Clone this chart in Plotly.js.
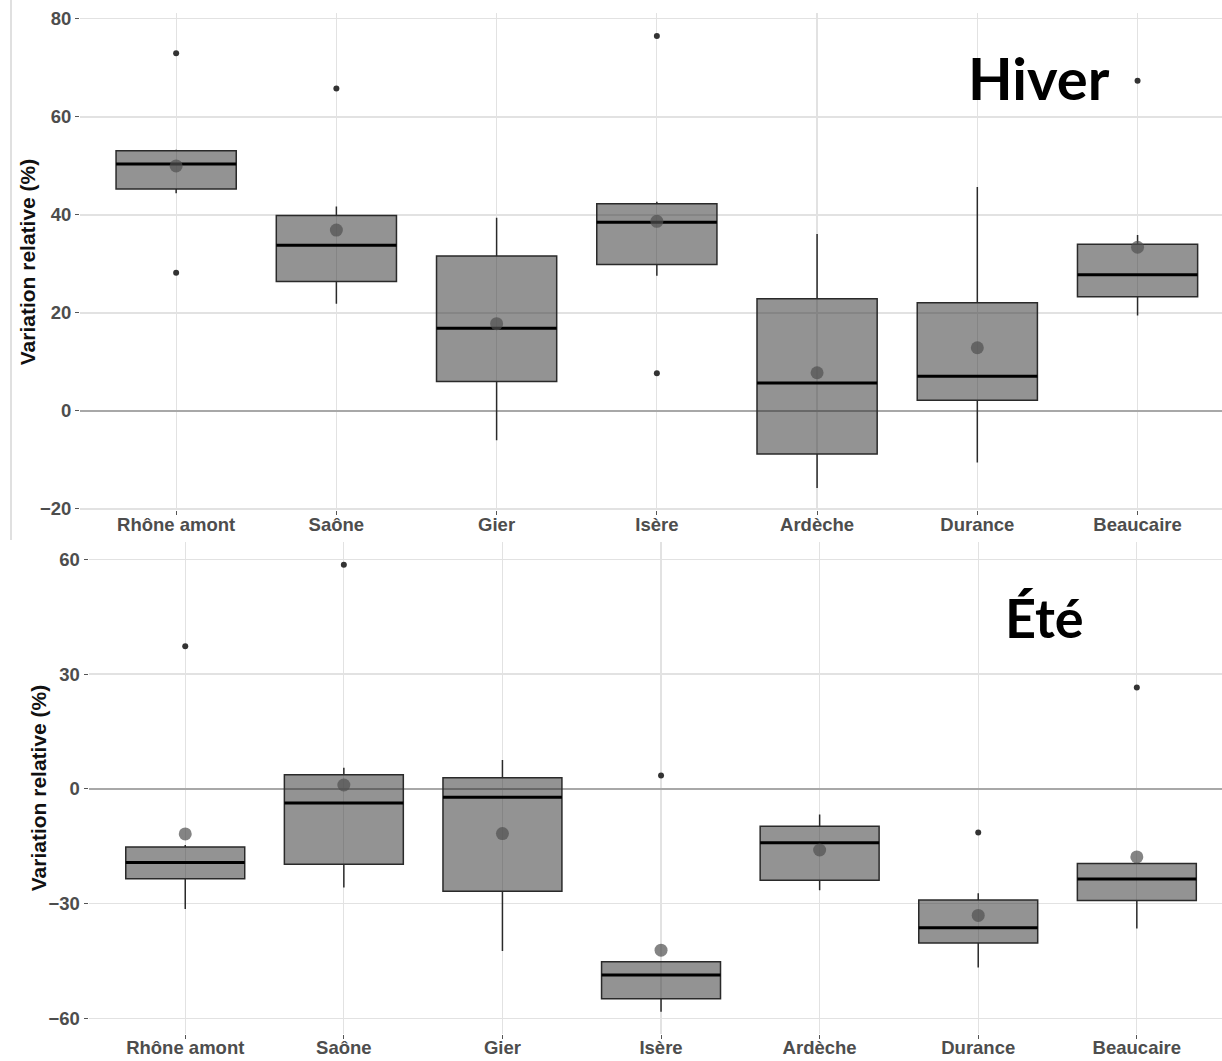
<!DOCTYPE html>
<html>
<head>
<meta charset="utf-8">
<script src="https://cdn.plot.ly/plotly-3.0.1.min.js"></script>
<style>html,body{margin:0;padding:0;background:#fff;}#chart{width:1222px;height:1061px;}</style>
</head>
<body>
<div id="chart"></div>
<script>
const categories = ['Rhône amont','Saône','Gier','Isère','Ardèche','Durance','Beaucaire'];

// Hiver (winter)
const hiverQ1     = [45.3, 26.4, 6.0, 29.9, -8.8, 2.2, 23.3];
const hiverMedian = [50.4, 33.8, 16.9, 38.5, 5.7, 7.1, 27.8];
const hiverQ3     = [53.1, 39.9, 31.6, 42.3, 22.9, 22.1, 34.0];
const hiverLow    = [44.4, 21.9, -6.0, 27.6, -15.7, -10.5, 19.5];
const hiverHigh   = [53.3, 41.7, 39.4, 42.7, 36.1, 45.7, 35.9];
const hiverMean   = [50.0, 36.9, 17.8, 38.7, 7.8, 12.9, 33.4];
const hiverOutlierCat = [0, 0, 1, 3, 3, 6];
const hiverOutlierVal = [73.0, 28.2, 65.8, 76.5, 7.7, 67.4];

// Été (summer)
const eteQ1     = [-23.5, -19.7, -26.8, -54.9, -23.9, -40.3, -29.2];
const eteMedian = [-19.3, -3.7, -2.2, -48.7, -14.1, -36.3, -23.6];
const eteQ3     = [-15.2, 3.7, 2.9, -45.2, -9.8, -29.1, -19.5];
const eteLow    = [-31.4, -25.8, -42.4, -58.3, -26.5, -46.7, -36.5];
const eteHigh   = [-14.7, 5.5, 7.5, -45.2, -6.7, -27.3, -19.5];
const eteMean   = [-11.8, 1.0, -11.7, -42.2, -16.0, -33.1, -17.8];
const eteOutlierCat = [0, 1, 3, 5, 6];
const eteOutlierVal = [37.3, 58.6, 3.5, -11.4, 26.5];

const hiverTicks = [-20, 0, 20, 40, 60, 80];
const eteTicks = [-60, -30, 0, 30, 60];

const BOXW = 0.75;
const idx = categories.map((c, i) => i);

function panelTraces(q1, med, q3, lo, hi, mean, outCat, outVal, xa, ya) {
  const mx = [], my = [];
  med.forEach((m, i) => { mx.push(i - BOXW / 2, i + BOXW / 2, null); my.push(m, m, null); });
  return [
    {
      type: 'box', x: idx, q1: q1, median: med, q3: q3, lowerfence: lo, upperfence: hi,
      width: BOXW, whiskerwidth: 0, boxpoints: false,
      fillcolor: 'rgba(40,40,40,0.5)', line: {color: '#2a2a2a', width: 1.5},
      xaxis: xa, yaxis: ya, hoverinfo: 'skip', showlegend: false
    },
    {
      type: 'scatter', mode: 'lines', x: mx, y: my,
      line: {color: '#000', width: 3}, xaxis: xa, yaxis: ya, hoverinfo: 'skip', showlegend: false
    },
    {
      type: 'scatter', mode: 'markers', x: outCat, y: outVal,
      marker: {color: '#333', size: 6}, xaxis: xa, yaxis: ya, hoverinfo: 'skip', showlegend: false
    },
    {
      type: 'scatter', mode: 'markers', x: idx, y: mean,
      marker: {color: 'rgba(80,80,80,0.7)', size: 13}, xaxis: xa, yaxis: ya, hoverinfo: 'skip', showlegend: false
    }
  ];
}

const data = [].concat(
  panelTraces(hiverQ1, hiverMedian, hiverQ3, hiverLow, hiverHigh, hiverMean, hiverOutlierCat, hiverOutlierVal, 'x', 'y'),
  panelTraces(eteQ1, eteMedian, eteQ3, eteLow, eteHigh, eteMean, eteOutlierCat, eteOutlierVal, 'x2', 'y2')
);

const tickFont = {family: 'Liberation Sans, Arial, sans-serif', size: 18.5, color: '#4d4d4d', weight: 'bold'};
const W = 1222, H = 1061;

function xaxisDef(domain, range, anchor) {
  return {
    domain: domain, range: range, anchor: anchor,
    tickvals: idx, ticktext: categories, tickfont: tickFont,
    showgrid: true, gridcolor: '#e2e2e2', gridwidth: 1.2, zeroline: false,
    ticks: 'outside', ticklen: 4, tickcolor: '#555', tickwidth: 1,
    ticklabelstandoff: -7,
    showline: false, fixedrange: true
  };
}
function yaxisDef(domain, range, anchor, ticks) {
  return {
    domain: domain, range: range, anchor: anchor,
    tickvals: ticks, tickfont: tickFont,
    showgrid: true, gridcolor: '#e2e2e2', gridwidth: 1.2,
    zeroline: true, zerolinecolor: '#a8a8a8', zerolinewidth: 1.5,
    ticks: 'outside', ticklen: 4, tickcolor: '#555', tickwidth: 1,
    showline: false, fixedrange: true
  };
}

const layout = {
  width: W, height: H,
  margin: {l: 0, r: 0, t: 0, b: 0},
  paper_bgcolor: '#fff', plot_bgcolor: '#fff',
  showlegend: false,
  xaxis: xaxisDef([80 / W, 1], [-0.6, 6.527], 'y'),
  yaxis: yaxisDef([1 - 510.3 / H, 1 - 13.3 / H], [-20.27, 81.14], 'x', hiverTicks),
  xaxis2: xaxisDef([88.5 / W, 1], [-0.61, 6.537], 'y2'),
  yaxis2: yaxisDef([1 - 1033.9 / H, 1 - 542.4 / H], [-64.08, 64.42], 'x2', eteTicks),
  shapes: [
    {type: 'line', xref: 'paper', yref: 'paper', x0: 11 / W, x1: 11 / W, y0: 1 - 540 / H, y1: 1,
     line: {color: '#d6d6d6', width: 1.5}}
  ],
  annotations: [
    {text: 'Variation relative (%)', xref: 'paper', yref: 'paper', x: 28.3 / W, y: 1 - 262 / H,
     xanchor: 'center', yanchor: 'middle', textangle: -90, showarrow: false,
     font: {family: 'Liberation Sans, Arial, sans-serif', size: 21, color: '#111', weight: 'bold'}},
    {text: 'Variation relative (%)', xref: 'paper', yref: 'paper', x: 38.3 / W, y: 1 - 788 / H,
     xanchor: 'center', yanchor: 'middle', textangle: -90, showarrow: false,
     font: {family: 'Liberation Sans, Arial, sans-serif', size: 21, color: '#111', weight: 'bold'}},
    {text: 'Hiver', xref: 'paper', yref: 'paper', x: 1038.7 / W, y: 1 - 77 / H,
     xanchor: 'center', yanchor: 'middle', showarrow: false,
     font: {family: 'Lato, sans-serif', size: 58, color: '#000', weight: 'bold'}},
    {text: 'Été', xref: 'paper', yref: 'paper', x: 1044 / W, y: 1 - 617 / H,
     xanchor: 'center', yanchor: 'middle', showarrow: false,
     font: {family: 'Lato, sans-serif', size: 54, color: '#000', weight: 'bold'}}
  ]
};

Plotly.newPlot('chart', data, layout, {displayModeBar: false, staticPlot: true});
</script>
</body>
</html>
